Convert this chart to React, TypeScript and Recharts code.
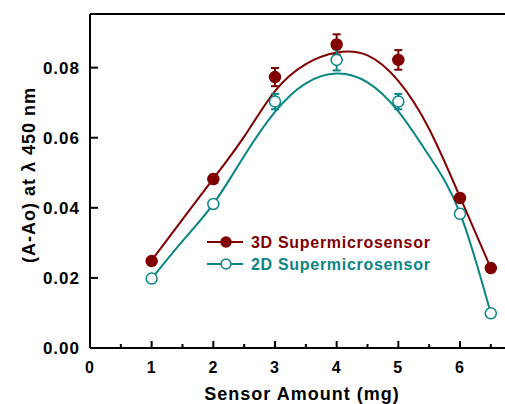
import React from 'react';
import {
  ComposedChart,
  Line,
  Scatter,
  ErrorBar,
  XAxis,
  YAxis,
  ReferenceLine,
} from 'recharts';

// measured points (mg of sensor vs absorbance change)
const sensorAmount = [1, 2, 3, 4, 5, 6, 6.5];
const values3D = [0.0248, 0.0482, 0.0773, 0.0866, 0.0822, 0.0428, 0.0228];
const errors3D = [0.001, 0.0012, 0.0026, 0.0029, 0.0028, 0.001, 0.001];
const values2D = [0.0198, 0.0411, 0.0703, 0.0822, 0.0703, 0.0383, 0.0099];
const errors2D = [0.001, 0.001, 0.0022, 0.003, 0.0022, 0.001, 0.001];

// fitted curves
const curveX = [1, 1.5, 2, 2.5, 3, 3.5, 4, 4.5, 5, 5.5, 6, 6.5];
const curve3D = [0.025, 0.0367, 0.0483, 0.0603, 0.0733, 0.081, 0.0843, 0.0835, 0.0762, 0.0625, 0.0431, 0.0228];
const curve2D = [0.0198, 0.0305, 0.0411, 0.0548, 0.0674, 0.0755, 0.0783, 0.0758, 0.0675, 0.0548, 0.0385, 0.0099];

const xTicks = [0, 0.5, 1, 1.5, 2, 2.5, 3, 3.5, 4, 4.5, 5, 5.5, 6, 6.5];
const yTicks = [0, 0.02, 0.04, 0.06, 0.08];
const seriesNames = ['3D Supermicrosensor', '2D Supermicrosensor'];
const X_MAX = 6.73;
const Y_MAX = 0.0953;

const RED = '#800000';
const TEAL = '#0a8585';
const FONT = '"Liberation Sans", Arial, sans-serif';

const points3D = sensorAmount.map((x, i) => ({ x, y: values3D[i], err: errors3D[i] }));
const points2D = sensorAmount.map((x, i) => ({ x, y: values2D[i], err: errors2D[i] }));
const fit3D = curveX.map((x, i) => ({ x, y: curve3D[i] }));
const fit2D = curveX.map((x, i) => ({ x, y: curve2D[i] }));

function XTick(props: any) {
  const { x, y, payload } = props;
  const v = payload.value as number;
  const major = Number.isInteger(v);
  return (
    <g>
      <line x1={x} y1={y} x2={x} y2={y - (major ? 7 : 4)} stroke="#000" strokeWidth={2} />
      {major && (
        <text x={x} y={y + 25} textAnchor="middle" fontFamily={FONT} fontWeight="bold" fontSize={16} letterSpacing={1} fill="#000">
          {v}
        </text>
      )}
    </g>
  );
}

function YTick(props: any) {
  const { x, y, payload } = props;
  return (
    <g>
      <line x1={x} y1={y} x2={x + 8} y2={y} stroke="#000" strokeWidth={2} />
      <text x={x - 10} y={y + 6} textAnchor="end" fontFamily={FONT} fontWeight="bold" fontSize={17} letterSpacing={1} fill="#000">
        {(payload.value as number).toFixed(2)}
      </text>
    </g>
  );
}

function dot(color: string, filled: boolean) {
  return (p: any) => (
    <circle cx={p.cx} cy={p.cy} r={5.5} fill={filled ? color : '#fff'} stroke={color} strokeWidth={1.5} />
  );
}

function LegendRow({ y, label, color, filled }: { y: number; label: string; color: string; filled: boolean }) {
  return (
    <g>
      <line x1={207} y1={y} x2={243} y2={y} stroke={color} strokeWidth={2} />
      <circle cx={226} cy={y} r={5} fill={filled ? color : '#fff'} stroke={color} strokeWidth={1.5} />
      <text x={251} y={y + 6} fontFamily={FONT} fontWeight="bold" fontSize={16} letterSpacing={0.7} fill={color}>
        {label}
      </text>
    </g>
  );
}

export default function App() {
  return (
    <div style={{ position: 'absolute', left: 0, top: 0, background: '#fff' }}>
      <ComposedChart width={505} height={404} margin={{ top: 14, right: 0, bottom: 0, left: 0 }}>
        <XAxis
          dataKey="x"
          type="number"
          domain={[0, X_MAX]}
          ticks={xTicks}
          interval={0}
          tick={<XTick />}
          tickLine={false}
          tickSize={0}
          tickMargin={0}
          height={56}
          axisLine={{ stroke: '#000', strokeWidth: 2 }}
          allowDataOverflow
        />
        <YAxis
          dataKey="y"
          type="number"
          domain={[0, Y_MAX]}
          ticks={yTicks}
          interval={0}
          tick={<YTick />}
          tickLine={false}
          tickSize={0}
          tickMargin={0}
          width={90}
          axisLine={{ stroke: '#000', strokeWidth: 2 }}
          allowDataOverflow
        />
        <ReferenceLine y={Y_MAX} stroke="#000" strokeWidth={2} ifOverflow="visible" />
        <Line data={fit3D} dataKey="y" type="natural" stroke={RED} strokeWidth={2} dot={false} isAnimationActive={false} />
        <Line data={fit2D} dataKey="y" type="natural" stroke={TEAL} strokeWidth={2} dot={false} isAnimationActive={false} />
        <Scatter data={points3D} dataKey="y" fill={RED} shape={dot(RED, true)} isAnimationActive={false}>
          <ErrorBar dataKey="err" direction="y" width={4} stroke={RED} strokeWidth={2} />
        </Scatter>
        <Scatter data={points2D} dataKey="y" fill={TEAL} shape={dot(TEAL, false)} isAnimationActive={false}>
          <ErrorBar dataKey="err" direction="y" width={4} stroke={TEAL} strokeWidth={2} />
        </Scatter>
        <LegendRow y={242} label={seriesNames[0]} color={RED} filled />
        <LegendRow y={264} label={seriesNames[1]} color={TEAL} filled={false} />
        <text x={302} y={400} textAnchor="middle" fontFamily={FONT} fontWeight="bold" fontSize={18} letterSpacing={1} fill="#000">
          Sensor Amount (mg)
        </text>
        <text
          x={0}
          y={0}
          transform="translate(35,175) rotate(-90)"
          textAnchor="middle"
          fontFamily={FONT}
          fontWeight="bold"
          fontSize={18}
          letterSpacing={1}
          fill="#000"
        >
          (A-Ao) at λ 450 nm
        </text>
      </ComposedChart>
    </div>
  );
}
